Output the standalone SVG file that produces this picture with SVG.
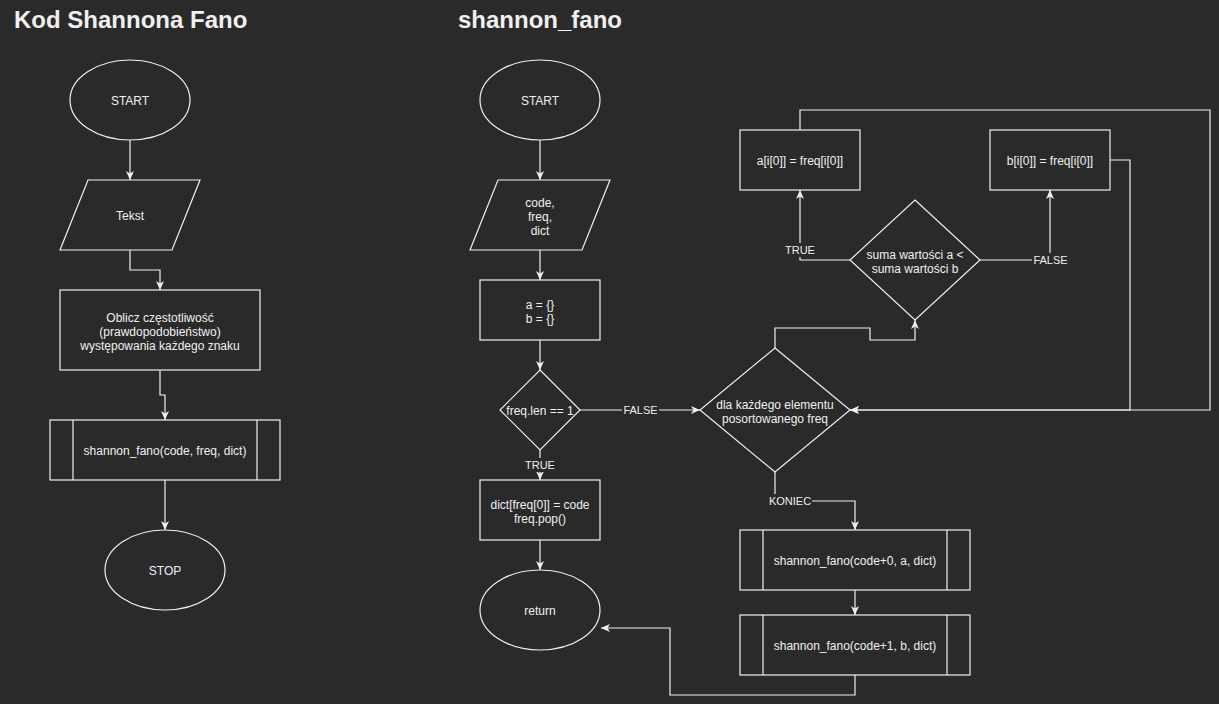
<svg xmlns="http://www.w3.org/2000/svg" width="1219" height="704" viewBox="0 0 1219 704">
<defs>
<style>
.bg{fill:#2a2a2a}
.s{fill:#2a2a2a;stroke:#f0f0f0;stroke-width:1.2}
.c{fill:none;stroke:#f0f0f0;stroke-width:1.2}
.t{font-family:"Liberation Sans",Arial,sans-serif;font-size:12px;fill:#f0f0f0;text-anchor:middle}
.l{font-family:"Liberation Sans",Arial,sans-serif;font-size:11px;fill:#f0f0f0;text-anchor:middle}
.h{font-family:"Liberation Sans",Arial,sans-serif;font-size:24px;font-weight:bold;fill:#f0f0f0}
</style>
<marker id="a" markerUnits="userSpaceOnUse" markerWidth="9" markerHeight="9" viewBox="0 0 9 9" refX="9" refY="4.5" orient="auto">
<path d="M0,0.5 L9,4.5 L0,8.5 L2.5,4.5 z" fill="#f0f0f0"/>
</marker>
</defs>
<rect class="bg" x="0" y="0" width="1219" height="704"/>
<text class="h" x="14" y="28">Kod Shannona Fano</text>
<text class="h" x="458" y="28">shannon_fano</text>

<g id="connectors">
<path class="c" d="M130,140 V180" marker-end="url(#a)"/>
<path class="c" d="M130,250 V270 H160 V290" marker-end="url(#a)"/>
<path class="c" d="M160,370 V395 H165 V420" marker-end="url(#a)"/>
<path class="c" d="M165,480 V530" marker-end="url(#a)"/>
<path class="c" d="M540,140 V180" marker-end="url(#a)"/>
<path class="c" d="M540,250 V280" marker-end="url(#a)"/>
<path class="c" d="M540,340 V370" marker-end="url(#a)"/>
<path class="c" d="M580,410 H700" marker-end="url(#a)"/>
<path class="c" d="M540,450 V480" marker-end="url(#a)"/>
<path class="c" d="M540,540 V570" marker-end="url(#a)"/>
<path class="c" d="M775,472 V501 H855 V530" marker-end="url(#a)"/>
<path class="c" d="M855,590 V615" marker-end="url(#a)"/>
<path class="c" d="M855,675 V695 H670 V628 H601" marker-end="url(#a)"/>
<path class="c" d="M775,348 V328 H870 V340 H915 V320" marker-end="url(#a)"/>
<path class="c" d="M850,260 H800 V190" marker-end="url(#a)"/>
<path class="c" d="M980,260 H1050 V190" marker-end="url(#a)"/>
<path class="c" d="M800,130 V110 H1210 V410 H850" marker-end="url(#a)"/>
<path class="c" d="M1110,160 H1130 V410 H850" marker-end="url(#a)"/>
<g id="edge-labels">
<rect class="bg" x="622" y="403" width="37" height="14"/>
<text class="l" x="640.5" y="414">FALSE</text>
<rect class="bg" x="524" y="458" width="32" height="14"/>
<text class="l" x="540" y="469">TRUE</text>
<rect class="bg" x="768" y="494" width="44" height="14"/>
<text class="l" x="790" y="505">KONIEC</text>
<rect class="bg" x="784" y="243" width="32" height="14"/>
<text class="l" x="800" y="254">TRUE</text>
<rect class="bg" x="1032" y="253" width="37" height="14"/>
<text class="l" x="1050.5" y="264">FALSE</text>
</g>
</g>

<g id="start1"><ellipse class="s" cx="130" cy="100" rx="60" ry="40"/><text class="t" x="130" y="105">START</text></g>
<g id="tekst"><path class="s" d="M88,180 H200 L172,250 H60 Z"/><text class="t" x="130" y="220">Tekst</text></g>
<g id="oblicz"><rect class="s" x="60" y="290" width="200" height="80"/>
<text class="t" x="160" y="322">Oblicz częstotliwość</text>
<text class="t" x="160" y="336">(prawdopodobieństwo)</text>
<text class="t" x="160" y="350">występowania każdego znaku</text></g>
<g id="call1"><rect class="s" x="50" y="420" width="230" height="60"/><path class="c" d="M73,420 V480 M257,420 V480"/><text class="t" x="165" y="455">shannon_fano(code, freq, dict)</text></g>
<g id="stop"><ellipse class="s" cx="165" cy="570" rx="60" ry="40"/><text class="t" x="165" y="575">STOP</text></g>

<g id="start2"><ellipse class="s" cx="540" cy="100" rx="60" ry="40"/><text class="t" x="540" y="105">START</text></g>
<g id="input"><path class="s" d="M498,180 H610 L582,250 H470 Z"/>
<text class="t" x="540" y="207">code,</text>
<text class="t" x="540" y="221">freq,</text>
<text class="t" x="540" y="235">dict</text></g>
<g id="init"><rect class="s" x="480" y="280" width="120" height="60"/>
<text class="t" x="540" y="309">a = {}</text>
<text class="t" x="540" y="323">b = {}</text></g>
<g id="cond1"><path class="s" d="M540,370 L580,410 L540,450 L500,410 Z"/><text class="t" x="540" y="415">freq.len == 1</text></g>
<g id="assign"><rect class="s" x="480" y="480" width="120" height="60"/>
<text class="t" x="540" y="509">dict[freq[0]] = code</text>
<text class="t" x="540" y="523">freq.pop()</text></g>
<g id="return"><ellipse class="s" cx="540" cy="610" rx="60" ry="40"/><text class="t" x="540" y="615">return</text></g>
<g id="loop"><path class="s" d="M775,348 L850,410 L775,472 L700,410 Z"/>
<text class="t" x="775" y="409">dla każdego elementu</text>
<text class="t" x="775" y="423">posortowanego freq</text></g>
<g id="cond2"><path class="s" d="M915,200 L980,260 L915,320 L850,260 Z"/>
<text class="t" x="915" y="259">suma wartości a &lt;</text>
<text class="t" x="915" y="273">suma wartości b</text></g>
<g id="seta"><rect class="s" x="740" y="130" width="120" height="60"/><text class="t" x="800" y="165">a[i[0]] = freq[i[0]]</text></g>
<g id="setb"><rect class="s" x="990" y="130" width="120" height="60"/><text class="t" x="1050" y="165">b[i[0]] = freq[i[0]]</text></g>
<g id="call0"><rect class="s" x="740" y="530" width="230" height="60"/><path class="c" d="M763,530 V590 M947,530 V590"/><text class="t" x="855" y="565">shannon_fano(code+0, a, dict)</text></g>
<g id="call1b"><rect class="s" x="740" y="615" width="230" height="60"/><path class="c" d="M763,615 V675 M947,615 V675"/><text class="t" x="855" y="650">shannon_fano(code+1, b, dict)</text></g>
</svg>
